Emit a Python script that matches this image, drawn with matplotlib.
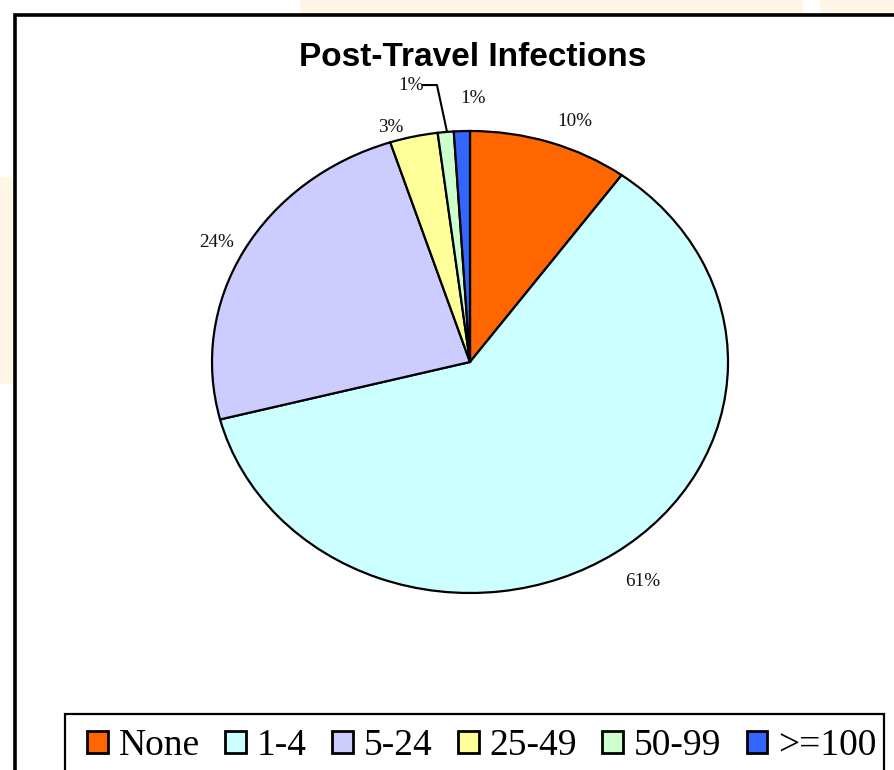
import matplotlib
matplotlib.use("Agg")
import matplotlib.pyplot as plt
from matplotlib.patches import Rectangle
from matplotlib.lines import Line2D

# ---- data ----
categories = ["None", "1-4", "5-24", "25-49", "50-99", ">=100"]
values = [10, 61, 24, 3, 1, 1]
labels_pct = ["10%", "61%", "24%", "3%", "1%", "1%"]
colors = ["#FF6600", "#CCFFFF", "#CCCCFF", "#FFFF99", "#CCFFCC", "#3366FF"]
title = "Post-Travel Infections"

# label positions (style) in pie units
label_pos = [(0.407, 1.043), (0.671, -0.952), (-0.984, 0.519),
             (-0.306, 1.013), (-0.229, 1.195), (0.012, 1.139)]

W, H = 894, 770
fig = plt.figure(figsize=(W / 100, H / 100), dpi=100)
fig.patch.set_facecolor("white")

# faint background shapes of the slide
bg = "#FFF6E8"
fig.patches.append(Rectangle((300 / W, 1 - 15 / H), 502 / W, 15 / H,
                             transform=fig.transFigure, color=bg, zorder=0))
fig.patches.append(Rectangle((820 / W, 1 - 15 / H), 74 / W, 15 / H,
                             transform=fig.transFigure, color=bg, zorder=0))
fig.patches.append(Rectangle((0, 1 - 383 / H), 13 / W, 206 / H,
                             transform=fig.transFigure, color=bg, zorder=0))
# chart frame
fig.patches.append(Rectangle((15 / W, -0.05), 1.0, 1 - 15 / H + 0.05,
                             transform=fig.transFigure, facecolor="white",
                             edgecolor="black", linewidth=2.6, zorder=1))
# legend frame (bottom runs off the image)
fig.patches.append(Rectangle((65 / W, -0.02), 819 / W, (770 - 714) / H + 0.02,
                             transform=fig.transFigure, facecolor="white",
                             edgecolor="black", linewidth=1.6, zorder=2))

# pie axes spanning the ellipse bounding box
cx, cy, rx, ry = 470, 362, 258, 231
ax = fig.add_axes([(cx - rx) / W, 1 - (cy + ry) / H, 2 * rx / W, 2 * ry / H])
ax.set_zorder(2)
wedges, _ = ax.pie(values, colors=colors, startangle=90, counterclock=False,
                   radius=1.0,
                   wedgeprops=dict(edgecolor="black", linewidth=1.6))
ax.set_aspect("auto")
ax.set_xlim(-1, 1)
ax.set_ylim(-1, 1)
ax.axis("off")

for lab, (x, y) in zip(labels_pct, label_pos):
    ax.text(x, y, lab, ha="center", va="center", fontsize=13.8,
            family="Liberation Serif", color="#111111", clip_on=False)

# leader line for the 50-99 label
ax.add_line(Line2D([-0.182, -0.128, -0.089], [1.199, 1.199, 0.996],
                   color="black", linewidth=1.5, clip_on=False))

fig.text(cx / W + 0.003, 1 - 58 / H, title, ha="center", va="center",
         fontsize=24, fontweight="bold", family="Liberation Sans")

handles = [Rectangle((0, 0), 1, 1, facecolor=c, edgecolor="black", linewidth=2.0)
           for c in colors]
leg = fig.legend(handles, categories, ncol=6, loc="center left",
                 bbox_to_anchor=(87 / W, 1 - 746 / H, 790 / W, 0),
                 mode="expand", frameon=False,
                 prop=dict(family="Liberation Serif", size=27),
                 handlelength=0.55, handleheight=0.55, handletextpad=0.3,
                 columnspacing=0.8, borderaxespad=0, borderpad=0)
leg.set_zorder(3)

fig.savefig("out.png", dpi=100, facecolor=fig.get_facecolor())
